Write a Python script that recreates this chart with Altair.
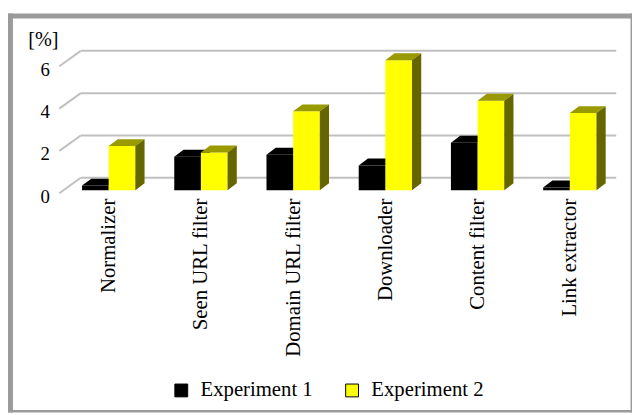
import altair as alt
import pandas as pd

# ---- data ----
categories = ["Normalizer", "Seen URL filter", "Domain URL filter",
              "Downloader", "Content filter", "Link extractor"]
series_names = ["Experiment 1", "Experiment 2"]
exp1 = [0.22, 1.59, 1.68, 1.17, 2.25, 0.13]
exp2 = [2.09, 1.79, 3.73, 6.15, 4.23, 3.65]
y_ticks = [0, 2, 4, 6]

# ---- 3D look parameters (data units) ----
BW = 0.289      # bar width (category units)
DX = 0.10       # bar depth, x
DY = 0.327      # bar depth, y (value units)
YB = 0.14       # bar base plane
WX = 0.232      # back wall offset x
WY = 0.73       # back wall offset y
XMIN, XMAX = -0.535, 5.503
FONT = "Liberation Serif"

front, side, top = [], [], []
for s, vals in enumerate([exp1, exp2]):
    for i, v in enumerate(vals):
        xl = i - BW if s == 0 else i
        xr = xl + BW
        bid = f"{s}-{i}"
        front.append(dict(series=series_names[s], s=s, x0=xl, x1=xr, y0=YB, y1=YB + v))
        for t in (0, 1):
            side.append(dict(id=bid, s=s, x=xr + t * DX, ylo=YB + t * DY, yhi=YB + v + t * DY))
            top.append(dict(id=bid, s=s, y=YB + v + t * DY, xa=xl + t * DX, xb=xr + t * DX))
front = pd.DataFrame(front)
side = pd.DataFrame(side)
top = pd.DataFrame(top)
grid = pd.DataFrame(dict(v=y_ticks))
grid["yb"] = grid["v"] + WY
grid["xf"] = XMIN
grid["xb"] = XMIN + WX
grid["xe"] = XMAX

xscale = alt.Scale(domain=[XMIN, XMAX], nice=False, zero=False)
yscale = alt.Scale(domain=[0, 7], nice=False, zero=False)
color = alt.Scale(domain=series_names, range=["#000000", "#ffff00"])

label_expr = "[" + ",".join("'" + c + "'" for c in categories) + "][datum.value]"

XAX = alt.Axis(values=list(range(len(categories))), labelExpr=label_expr,
               labelAngle=270, labelAlign="right", labelBaseline="middle",
               labelPadding=5, domain=False, ticks=False, grid=False, title=None,
               labelFont=FONT, labelFontSize=21, labelColor="#000000",
               labelOverlap=False, labelFlush=False, labelBound=False)
YAX = alt.Axis(values=y_ticks, domain=False, ticks=False, grid=False,
               labelFont=FONT, labelFontSize=19, labelColor="#000000",
               labelPadding=10, labelOffset=3,
               title="[%]", titleAngle=0, titleAlign="left", titleBaseline="alphabetic",
               titleX=-32, titleY=0, titleFont=FONT, titleFontSize=20.5,
               titleFontWeight="normal", titleColor="#000000")

GRID = "#c0c0c0"
FRAME = "#9b9b9b"

one = alt.Data(values=[{}])
frame = [
    alt.Chart(one).mark_rule(color=FRAME, strokeWidth=5).encode(
        x=alt.value(-52), x2=alt.value(580), y=alt.value(-29.5)),
    alt.Chart(one).mark_rule(color=FRAME, strokeWidth=5).encode(
        x=alt.value(-49.5), y=alt.value(-32), y2=alt.value(372)),
    alt.Chart(one).mark_rule(color=FRAME, strokeWidth=1.5).encode(
        x=alt.value(579.3), y=alt.value(-32), y2=alt.value(372)),
    alt.Chart(one).mark_rule(color=FRAME, strokeWidth=2.5).encode(
        x=alt.value(-52), x2=alt.value(580), y=alt.value(370.8)),
]

gridlines = alt.Chart(grid).mark_rule(color=GRID, strokeWidth=2).encode(
    x=alt.X("xb:Q", scale=xscale, axis=XAX), x2="xe:Q",
    y=alt.Y("yb:Q", scale=yscale, axis=YAX))
diag = alt.Chart(grid).mark_rule(color=GRID, strokeWidth=2).encode(
    x=alt.X("xf:Q", scale=xscale, axis=XAX), x2="xb:Q",
    y=alt.Y("v:Q", scale=yscale, axis=YAX), y2="yb:Q")

legend = alt.Legend(orient="none", legendX=113, legendY=339, direction="horizontal",
                    title=None, symbolType="square", symbolSize=169,
                    symbolStrokeColor="#000000", symbolStrokeWidth=1,
                    labelFont=FONT, labelFontSize=21, labelColor="#000000",
                    labelOffset=9, columnPadding=29, padding=0)


def front_layer(s):
    return alt.Chart(front).transform_filter(alt.datum.s == s).mark_bar().encode(
        x=alt.X("x0:Q", scale=xscale, axis=XAX), x2="x1:Q",
        y=alt.Y("y0:Q", scale=yscale, axis=YAX), y2="y1:Q",
        color=alt.Color("series:N", scale=color, legend=legend))


def top_layer(s, col):
    return alt.Chart(top).transform_filter(alt.datum.s == s).mark_area(
        orient="horizontal", color=col).encode(
        y=alt.Y("y:Q", scale=yscale, axis=YAX),
        x=alt.X("xa:Q", scale=xscale, axis=XAX), x2="xb:Q",
        detail="id:N")


def side_layer(s, col):
    return alt.Chart(side).transform_filter(alt.datum.s == s).mark_area(
        orient="vertical", color=col).encode(
        x=alt.X("x:Q", scale=xscale, axis=XAX),
        y=alt.Y("ylo:Q", scale=yscale, axis=YAX), y2="yhi:Q",
        detail="id:N")


chart = alt.layer(
    gridlines, diag, *frame,
    front_layer(0), top_layer(0, "#000000"), side_layer(0, "#000000"),
    front_layer(1), top_layer(1, "#999900"), side_layer(1, "#666600"),
).properties(
    width=564, height=150,
    autosize=alt.AutoSizeParams(type="none"),
    padding={"left": 52, "top": 35, "right": 16, "bottom": 222},
    background="#ffffff",
).configure_view(stroke=None)

chart.save("out.html", embed_options={"renderer": "svg", "actions": False})
